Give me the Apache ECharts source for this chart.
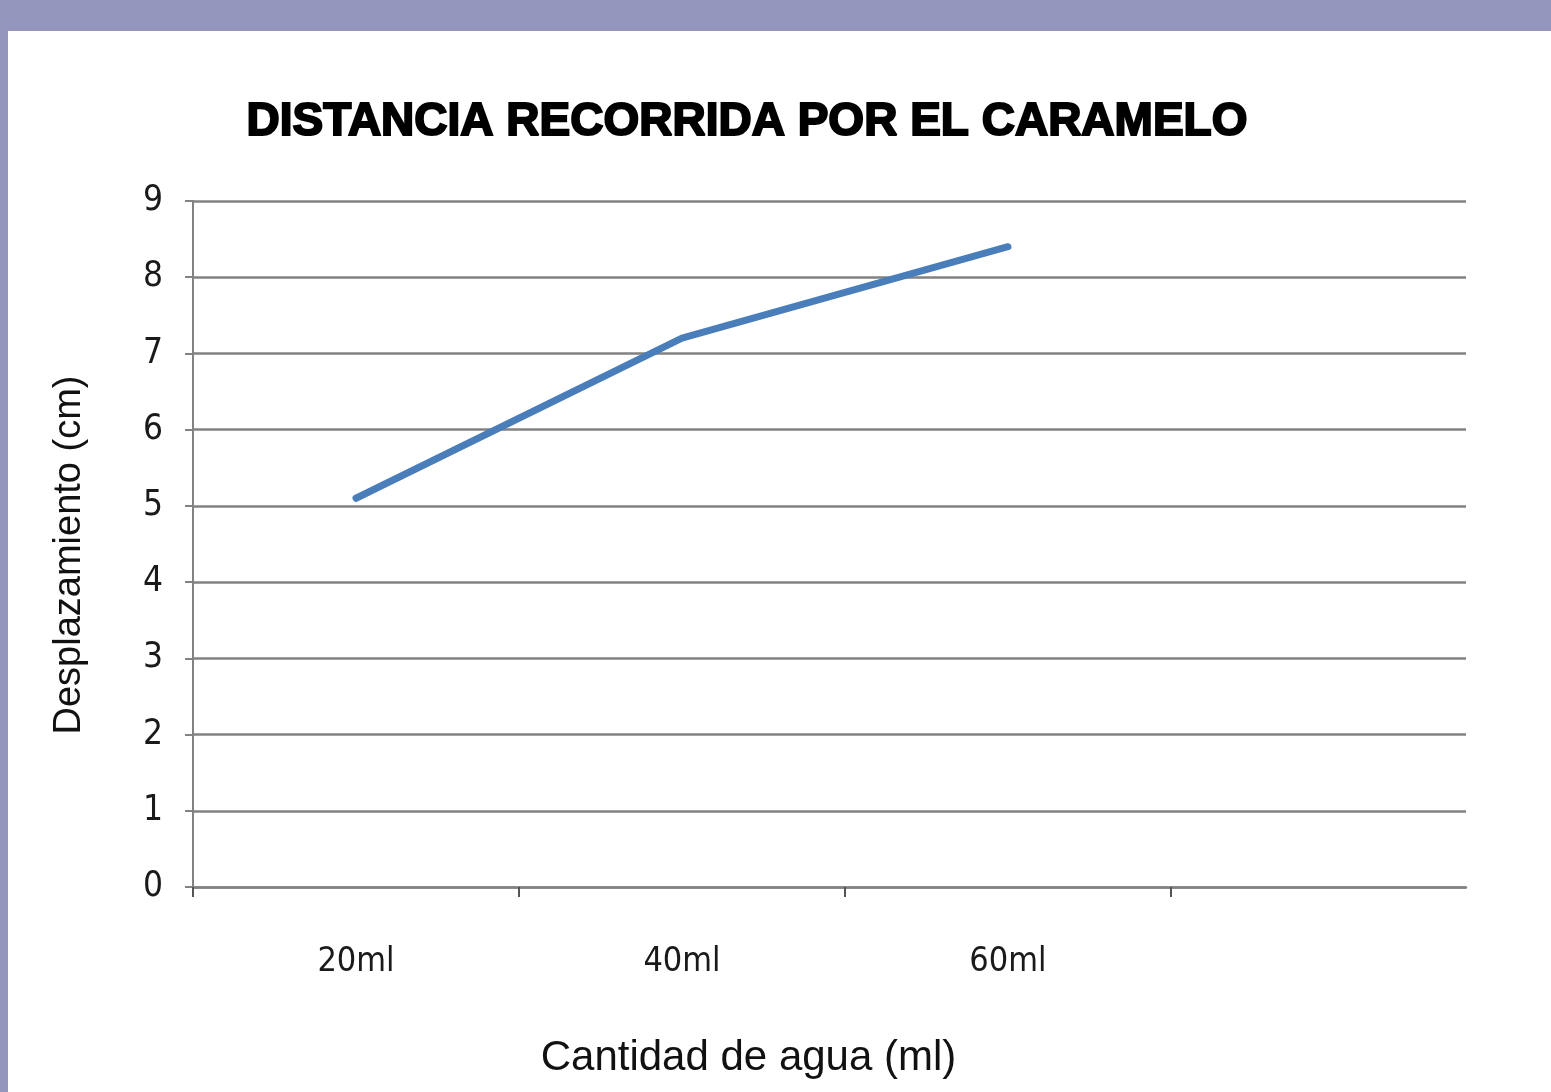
<!DOCTYPE html>
<html>
<head>
<meta charset="utf-8">
<script src="https://cdn.jsdelivr.net/npm/echarts@6/dist/echarts.min.js"></script>
<style>
  html, body { margin: 0; padding: 0; width: 1551px; height: 1092px; background: #9496be; overflow: hidden; }
  #chart { position: absolute; left: 8px; top: 31px; width: 1543px; height: 1061px; background: #ffffff; }
</style>
</head>
<body>
<div id="chart"></div>
<script>
// Water amounts and the distance the candy travelled for each
const categories = ['20ml', '40ml', '60ml'];
const distances = [5.1, 7.2, 8.4];
const yTicks = [0, 1, 2, 3, 4, 5, 6, 7, 8, 9];

// each category sits in the middle of its slot on a value x-axis (slot width 1)
const points = categories.map((c, i) => [i + 0.5, distances[i]]);

const chart = echarts.init(document.getElementById('chart'), null, { renderer: 'canvas' });
const gridColor = '#828282';
const narrow = '"Liberation Sans Narrow", "DejaVu Sans Condensed", "Liberation Sans", sans-serif';

chart.setOption({
  animation: false,
  title: {
    text: 'DISTANCIA RECORRIDA POR EL CARAMELO',
    left: 734, top: 63, textAlign: 'center',
    textStyle: {
      fontFamily: '"Liberation Sans", Arial, sans-serif', fontWeight: 'bold', fontSize: 46, color: '#000',
      textBorderColor: '#000', textBorderWidth: 2
    }
  },
  grid: { left: 185, top: 170, width: 1273, height: 686, containLabel: false },
  xAxis: {
    type: 'value', min: 0, max: 3.905,
    name: 'Cantidad de agua (ml)', nameLocation: 'middle', nameGap: 150,
    nameTextStyle: { fontFamily: '"Liberation Sans", Arial, sans-serif', fontSize: 42, color: '#111', padding: [0, 162, 0, 0] },
    axisLine: { show: true, lineStyle: { color: gridColor, width: 2.5 } },
    axisTick: { show: true, length: 10, customValues: [0, 1, 2, 3], lineStyle: { color: '#555', width: 2 } },
    axisLabel: {
      customValues: [0.5, 1.5, 2.5], margin: 58,
      fontFamily: narrow, fontSize: 34, color: '#1a1a1a',
      formatter: v => categories[Math.floor(v)] || ''
    },
    splitLine: { show: false }
  },
  yAxis: {
    type: 'value', min: yTicks[0], max: yTicks[yTicks.length - 1], interval: 1,
    name: 'Desplazamiento (cm)', nameLocation: 'middle', nameGap: 104, nameRotate: 90,
    nameTextStyle: { fontFamily: '"Liberation Sans", Arial, sans-serif', fontSize: 38, color: '#111', padding: [0, 22, 0, 0] },
    axisLine: { show: true, lineStyle: { color: gridColor, width: 2 } },
    axisTick: { show: true, length: 8, lineStyle: { color: gridColor, width: 2 } },
    axisLabel: { margin: 30, fontFamily: narrow, fontSize: 35, color: '#1a1a1a' },
    splitLine: { show: true, lineStyle: { color: gridColor, width: 2.5 } }
  },
  series: [{
    type: 'line',
    data: points,
    showSymbol: false,
    symbol: 'none',
    lineStyle: { color: '#4a7ebb', width: 7, cap: 'round', join: 'round' }
  }]
});
</script>
</body>
</html>
